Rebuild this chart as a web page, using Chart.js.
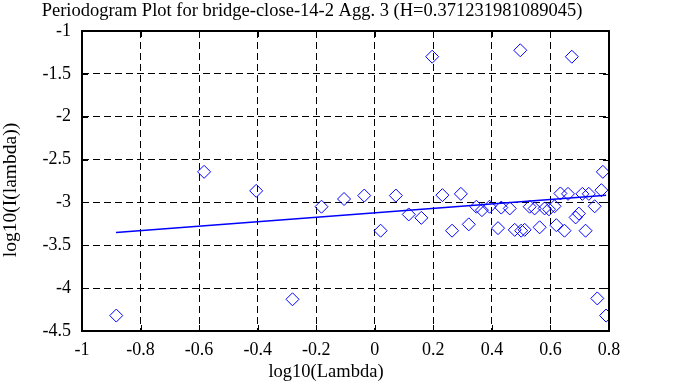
<!DOCTYPE html>
<html>
<head>
<meta charset="utf-8">
<script src="https://cdn.jsdelivr.net/npm/chart.js@4/dist/chart.umd.min.js"></script>
<style>
  html, body { margin: 0; padding: 0; background: #fff; }
  #wrap { width: 688px; height: 387px; }
</style>
</head>
<body>
<div id="wrap"><canvas id="myChart" width="688" height="387"></canvas></div>
<script>
// periodogram points
var logLambda = [-0.883, -0.583, -0.405, -0.281, -0.182, -0.105, -0.036, 0.020, 0.072, 0.116,
  0.159, 0.196, 0.231, 0.264, 0.294, 0.321, 0.347, 0.366, 0.392, 0.421,
  0.432, 0.461, 0.478, 0.497, 0.500, 0.512, 0.529, 0.546, 0.563, 0.580,
  0.595, 0.614, 0.620, 0.634, 0.648, 0.660, 0.673, 0.686, 0.697, 0.709,
  0.720, 0.731, 0.751, 0.760, 0.774, 0.779, 0.790];
var logI = [-4.32, -2.643, -2.865, -4.13, -3.05, -2.96, -2.92, -3.33, -2.92, -3.14,
  -3.18, -1.30, -2.915, -3.33, -2.90, -3.256, -3.05, -3.09, -3.05, -3.30,
  -3.06, -3.07, -3.32, -1.225, -3.33, -3.32, -3.05, -3.07, -3.29, -3.07,
  -3.08, -3.045, -3.265, -2.895, -3.33, -2.90, -1.30, -3.175, -3.13, -2.90,
  -3.33, -2.90, -3.045, -4.12, -2.857, -2.643, -4.32];

// fitted line
var fitX = [-0.884, 0.79];
var fitY = [-3.35, -2.915];

var titulo = 'Periodogram Plot for bridge-close-14-2 Agg. 3 (H=0.371231981089045)';
var xLabel = 'log10(Lambda)';
var yLabel = 'log10(I(lambda))';

var fonte = '"Liberation Serif", "DejaVu Serif", serif';

var pontos = logLambda.map(function (x, i) { return { x: x, y: logI[i] }; });
var linha = fitX.map(function (x, i) { return { x: x, y: fitY[i] }; });

// frame, inward tick marks and text around the plot
var moldura = {
  id: 'moldura',
  afterDraw: function (chart) {
    var ctx = chart.ctx;
    var a = chart.chartArea;
    var sx = chart.scales.x, sy = chart.scales.y;
    ctx.save();
    ctx.strokeStyle = '#000';
    ctx.lineWidth = 1;
    ctx.setLineDash([]);
    ctx.beginPath();
    sx.ticks.forEach(function (t) {
      var px = Math.round(sx.getPixelForValue(t.value)) + 0.5;
      ctx.moveTo(px, a.top); ctx.lineTo(px, a.top + 6);
      ctx.moveTo(px, a.bottom); ctx.lineTo(px, a.bottom - 6);
    });
    sy.ticks.forEach(function (t) {
      var py = Math.round(sy.getPixelForValue(t.value)) + 0.5;
      ctx.moveTo(a.left, py); ctx.lineTo(a.left + 6, py);
      ctx.moveTo(a.right, py); ctx.lineTo(a.right - 6, py);
    });
    ctx.stroke();
    ctx.lineWidth = 2;
    ctx.strokeRect(a.left, a.top, a.right - a.left, a.bottom - a.top);

    ctx.fillStyle = '#000';
    ctx.font = '18.5px ' + fonte;
    ctx.textAlign = 'center';
    ctx.textBaseline = 'middle';
    ctx.fillText(titulo, 312, 11);
    ctx.fillText(xLabel, 326, 372);
    ctx.font = '19.5px ' + fonte;
    ctx.translate(11, 190);
    ctx.rotate(-Math.PI / 2);
    ctx.fillText(yLabel, 0, 0);
    ctx.restore();
  }
};

var ctx = document.getElementById('myChart').getContext('2d');
var myChart = new Chart(ctx, {
  type: 'scatter',
  data: {
    datasets: [{
      label: 'periodogram',
      data: pontos,
      pointStyle: 'rectRot',
      pointRadius: 6.5,
      borderColor: '#0000ff',
      backgroundColor: 'rgba(0,0,0,0)',
      borderWidth: 1
    }, {
      type: 'line',
      label: 'fit',
      data: linha,
      borderColor: '#0000ff',
      borderWidth: 1.5,
      pointRadius: 0,
      fill: false
    }]
  },
  options: {
    responsive: false,
    animation: false,
    layout: { padding: { left: 0, right: 79, top: 31, bottom: 0 } },
    plugins: { legend: { display: false }, tooltip: { enabled: false } },
    scales: {
      x: {
        type: 'linear',
        min: -1, max: 0.8,
        afterFit: function (s) { s.height = 56; },
        border: { display: false, dash: [7, 4] },
        grid: { color: '#000', lineWidth: 1, drawTicks: false },
        ticks: {
          stepSize: 0.2,
          padding: 8,
          color: '#000',
          font: { family: fonte, size: 18 },
          callback: function (v) { return String(Math.round(v * 10) / 10); }
        }
      },
      y: {
        type: 'linear',
        min: -4.5, max: -1,
        afterFit: function (s) { s.width = 82; },
        border: { display: false, dash: [7, 4] },
        grid: { color: '#000', lineWidth: 1, drawTicks: false },
        ticks: {
          stepSize: 0.5,
          padding: 11,
          color: '#000',
          font: { family: fonte, size: 18 },
          callback: function (v) { return String(Math.round(v * 10) / 10); }
        }
      }
    }
  },
  plugins: [moldura]
});
</script>
</body>
</html>
